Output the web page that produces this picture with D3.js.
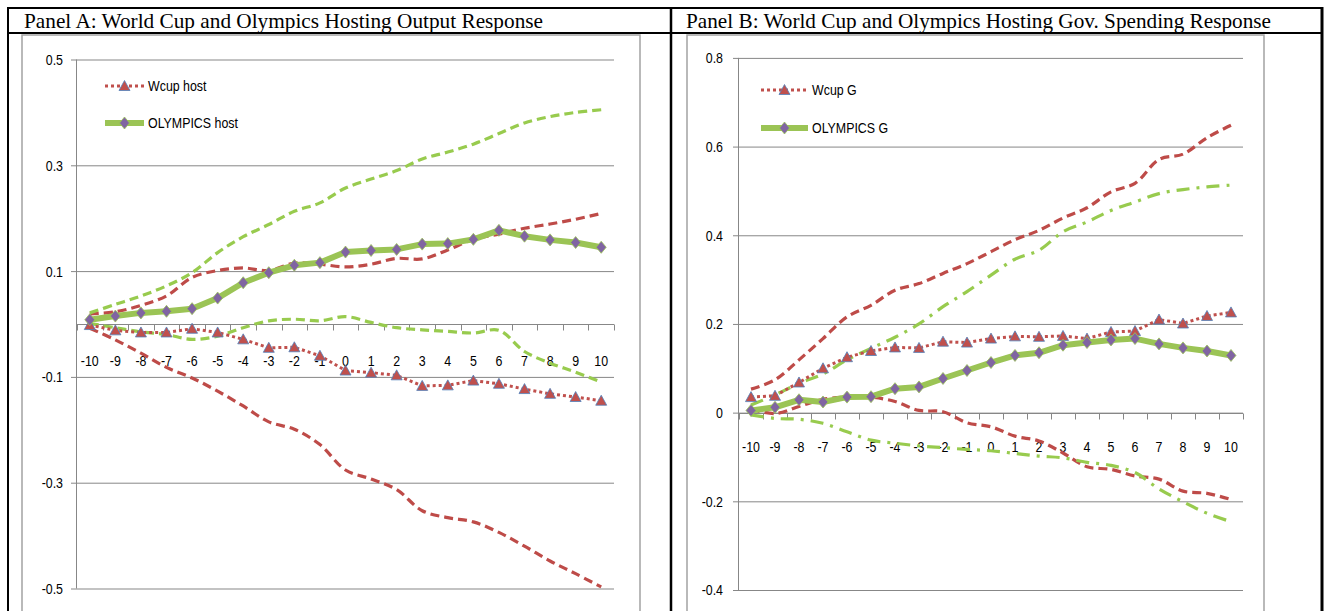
<!DOCTYPE html>
<html>
<head>
<meta charset="utf-8">
<script src="https://cdn.jsdelivr.net/npm/d3@7"></script>
<style>
  html, body { margin: 0; padding: 0; background: #fff; }
  svg { display: block; }
</style>
</head>
<body>
<svg id="fig" width="1327" height="611"></svg>
<script>
// Event-time periods (years relative to hosting)
const periods = [-10, -9, -8, -7, -6, -5, -4, -3, -2, -1, 0, 1, 2, 3, 4, 5, 6, 7, 8, 9, 10];

// Panel A: output response, point estimates and confidence bands
const outputWcup   = [-0.002, -0.012, -0.016, -0.016, -0.009, -0.016, -0.029, -0.045, -0.044, -0.060, -0.088, -0.092, -0.097, -0.117, -0.116, -0.107, -0.113, -0.123, -0.132, -0.138, -0.145];
const outputWcupHi = [0.019, 0.023, 0.035, 0.053, 0.088, 0.101, 0.106, 0.101, 0.115, 0.113, 0.108, 0.113, 0.124, 0.123, 0.140, 0.160, 0.170, 0.181, 0.189, 0.198, 0.209];
const outputWcupLo = [-0.008, -0.030, -0.055, -0.082, -0.102, -0.127, -0.155, -0.185, -0.199, -0.228, -0.276, -0.293, -0.313, -0.353, -0.366, -0.374, -0.394, -0.420, -0.448, -0.472, -0.497];
const outputOly    = [0.008, 0.015, 0.021, 0.024, 0.029, 0.049, 0.078, 0.097, 0.111, 0.116, 0.136, 0.139, 0.141, 0.151, 0.152, 0.160, 0.177, 0.166, 0.159, 0.154, 0.145];
const outputOlyHi  = [0.021, 0.037, 0.053, 0.072, 0.097, 0.135, 0.165, 0.188, 0.213, 0.229, 0.257, 0.274, 0.290, 0.312, 0.325, 0.340, 0.360, 0.380, 0.392, 0.400, 0.405];
const outputOlyLo  = [0.001, -0.007, -0.015, -0.020, -0.029, -0.023, -0.007, 0.006, 0.009, 0.006, 0.014, 0.003, -0.007, -0.011, -0.014, -0.017, -0.012, -0.052, -0.074, -0.091, -0.110];

// Panel B: government spending response
const govWcup   = [0.035, 0.038, 0.068, 0.100, 0.125, 0.139, 0.147, 0.146, 0.160, 0.158, 0.167, 0.172, 0.171, 0.173, 0.167, 0.182, 0.184, 0.210, 0.201, 0.218, 0.226];
const govWcupHi = [0.053, 0.074, 0.119, 0.167, 0.216, 0.242, 0.276, 0.291, 0.314, 0.336, 0.363, 0.390, 0.411, 0.439, 0.462, 0.498, 0.517, 0.571, 0.583, 0.620, 0.648];
const govWcupLo = [0.008, -0.002, 0.014, 0.030, 0.035, 0.035, 0.025, 0.005, 0.002, -0.023, -0.032, -0.053, -0.064, -0.091, -0.122, -0.128, -0.143, -0.150, -0.177, -0.182, -0.196];
const govOly    = [0.005, 0.012, 0.029, 0.024, 0.035, 0.036, 0.054, 0.058, 0.077, 0.095, 0.113, 0.129, 0.135, 0.152, 0.158, 0.164, 0.167, 0.155, 0.146, 0.139, 0.129];
const govOlyHi  = [0.017, 0.040, 0.066, 0.087, 0.119, 0.145, 0.170, 0.200, 0.239, 0.273, 0.310, 0.346, 0.366, 0.408, 0.430, 0.456, 0.475, 0.494, 0.503, 0.509, 0.513];
const govOlyLo  = [-0.005, -0.013, -0.015, -0.024, -0.043, -0.062, -0.069, -0.075, -0.079, -0.083, -0.086, -0.092, -0.098, -0.102, -0.112, -0.119, -0.135, -0.172, -0.201, -0.227, -0.246];

// Axis ticks
const outputTicks = [0.5, 0.3, 0.1, -0.1, -0.3, -0.5];
const outputTickLabels = ["0.5", "0.3", "0.1", "-0.1", "-0.3", "-0.5"];
const govTicks = [0.8, 0.6, 0.4, 0.2, 0, -0.2, -0.4];
const govTickLabels = ["0.8", "0.6", "0.4", "0.2", "0", "-0.2", "-0.4"];

// Titles and legend text
const panelTitles = [
  "Panel A: World Cup and Olympics Hosting Output Response",
  "Panel B: World Cup and Olympics Hosting Gov. Spending Response"
];
const legendA = ["Wcup host", "OLYMPICS host"];
const legendB = ["Wcup G", "OLYMPICS G"];

// ---- styling ----
const CHART_FONT = "'Liberation Sans', Arial, sans-serif";
const NARROW = 0.8;   // horizontal squeeze for the condensed chart lettering
const TITLE_FONT = "'Liberation Serif', 'Times New Roman', serif";
const RED = "#C0504D";
const RED_BAND = "#BE4B48";
const GREEN = "#9BC455";
const GREEN_BAND = "#98CB4E";
const PURPLE = "#8064A2";
const BLUE_EDGE = "#4F81BD";
const GRID = "#878787";

const svg = d3.select("#fig");

// squeeze text horizontally around its anchor point
function narrow(sel) {
  sel.each(function () {
    const t = d3.select(this);
    const x = +t.attr("x") || 0;
    const y = +t.attr("y") || 0;
    t.attr("x", 0).attr("y", 0)
      .attr("transform", `translate(${x},${y}) scale(${NARROW},1)`)
      .attr("font-family", CHART_FONT).attr("font-size", 15.5).attr("fill", "#000");
  });
}

// ---- table frame ----
const frame = svg.append("g");
frame.append("rect").attr("width", 1327).attr("height", 611).attr("fill", "#fff");
const blk = (x1, y1, x2, y2, w) => frame.append("line")
  .attr("x1", x1).attr("y1", y1).attr("x2", x2).attr("y2", y2)
  .attr("stroke", "#000").attr("stroke-width", w);
blk(8, 8, 1322, 8, 2);
blk(8, 33, 1322, 33, 2);
blk(8, 7, 8, 611, 2);
blk(671, 7, 671, 611, 2.5);
blk(1322, 7, 1322, 611, 3);

// chart-object borders
const chartBox = (x1, x2) => frame.append("path")
  .attr("d", `M${x1},615 V35 H${x2} V615`)
  .attr("fill", "none").attr("stroke", "#A3A3A3").attr("stroke-width", 1.5);
chartBox(22, 640);
chartBox(687, 1264);

// titles
const titleWidths = [519, 585];
frame.selectAll("text.title").data(panelTitles).enter().append("text")
  .attr("class", "title")
  .attr("x", (d, i) => i === 0 ? 24 : 686)
  .attr("y", 28)
  .attr("font-family", TITLE_FONT)
  .attr("font-size", 21)
  .attr("textLength", (d, i) => titleWidths[i])
  .attr("lengthAdjust", "spacingAndGlyphs")
  .attr("fill", "#000")
  .text(d => d);

// ---- marker paths ----
const triangle = (cx, cy) => `M${cx},${cy - 5.5}L${cx + 5.5},${cy + 4.5}L${cx - 5.5},${cy + 4.5}Z`;
const diamond = (cx, cy) => `M${cx},${cy - 6}L${cx + 5},${cy}L${cx},${cy + 6}L${cx - 5},${cy}Z`;

function drawPanel(cfg) {
  const g = svg.append("g");
  const x = d3.scaleBand().domain(periods).range([cfg.left, cfg.right]);
  const y = d3.scaleLinear().domain(cfg.domain).range([cfg.bottom, cfg.top]);
  const cx = p => x(p) + x.bandwidth() / 2;

  // horizontal gridlines
  g.append("g")
    .attr("transform", `translate(${cfg.left},0)`)
    .call(d3.axisLeft(y).tickValues(cfg.ticks).tickSize(-(cfg.right - cfg.left)).tickFormat(""))
    .call(a => a.select(".domain").remove())
    .call(a => a.selectAll(".tick line").attr("stroke", GRID).attr("stroke-width", 1));

  // y axis with outward ticks and labels
  g.append("g")
    .attr("transform", `translate(${cfg.left},0)`)
    .call(d3.axisLeft(y).tickValues(cfg.ticks).tickSize(6).tickPadding(cfg.labelPad)
      .tickFormat((d, i) => cfg.tickLabels[i]))
    .call(a => a.select(".domain").attr("stroke", GRID).attr("d", `M-0.5,${cfg.top}V${cfg.bottom}`))
    .call(a => a.selectAll(".tick line").attr("stroke", GRID))
    .call(a => narrow(a.selectAll("text")));

  // x axis along zero with category-boundary ticks
  const y0 = Math.round(y(0)) + 0.5;
  const xAxis = g.append("g").attr("transform", `translate(0,${y0})`);
  xAxis.call(d3.axisBottom(x).tickSize(0).tickPadding(0))
    .call(a => a.select(".domain").attr("stroke", GRID).attr("d", `M${cfg.left},0H${cfg.right}`))
    .call(a => a.selectAll("text").attr("y", cfg.xLabelOffset).attr("dy", "0.35em"))
    .call(a => narrow(a.selectAll("text")));
  const bounds = periods.map(p => x(p)).concat([x(periods[periods.length - 1]) + x.bandwidth()]);
  xAxis.selectAll("line.bt").data(bounds).enter().append("line")
    .attr("class", "bt")
    .attr("x1", d => Math.round(d) + 0.5).attr("x2", d => Math.round(d) + 0.5)
    .attr("y1", 0).attr("y2", 6)
    .attr("stroke", GRID);

  const pts = arr => arr.map((v, i) => [cx(periods[i]), y(v)]);
  const smooth = d3.line().curve(d3.curveCatmullRom.alpha(0.5));
  const straight = d3.line();

  // confidence bands
  [cfg.wcupHi, cfg.wcupLo].forEach(arr => {
    g.append("path").attr("d", smooth(pts(arr)))
      .attr("fill", "none").attr("stroke", RED_BAND).attr("stroke-width", 3.2)
      .attr("stroke-dasharray", "9 5");
  });
  [cfg.olyHi, cfg.olyLo].forEach(arr => {
    g.append("path").attr("d", smooth(pts(arr)))
      .attr("fill", "none").attr("stroke", GREEN_BAND).attr("stroke-width", 3.2)
      .attr("stroke-dasharray", cfg.olyDash);
  });

  // World Cup point estimates: dotted line with triangles
  g.append("path").attr("d", straight(pts(cfg.wcup)))
    .attr("fill", "none").attr("stroke", RED).attr("stroke-width", 3)
    .attr("stroke-dasharray", "3 3");
  g.selectAll("path.tri").data(cfg.wcup).enter().append("path")
    .attr("class", "tri")
    .attr("d", (v, i) => triangle(cx(periods[i]), y(v)))
    .attr("fill", RED).attr("stroke", BLUE_EDGE).attr("stroke-width", 0.8);

  // Olympics point estimates: thick line with diamonds
  g.append("path").attr("d", straight(pts(cfg.oly)))
    .attr("fill", "none").attr("stroke", GREEN).attr("stroke-width", 6)
    .attr("stroke-linejoin", "round");
  g.selectAll("path.dia").data(cfg.oly).enter().append("path")
    .attr("class", "dia")
    .attr("d", (v, i) => diamond(cx(periods[i]), y(v)))
    .attr("fill", PURPLE).attr("stroke", GREEN).attr("stroke-width", 0.8);

  // legend
  const lg = g.append("g");
  const [lx1, lx2] = cfg.legendLine;
  const lmid = (lx1 + lx2) / 2;
  const [ly1, ly2] = cfg.legendY;
  lg.append("line").attr("x1", lx1).attr("x2", lx2).attr("y1", ly1).attr("y2", ly1)
    .attr("stroke", RED).attr("stroke-width", 3).attr("stroke-dasharray", "3 3");
  lg.append("path").attr("d", triangle(lmid, ly1))
    .attr("fill", RED).attr("stroke", BLUE_EDGE).attr("stroke-width", 0.8);
  lg.append("line").attr("x1", lx1).attr("x2", lx2).attr("y1", ly2).attr("y2", ly2)
    .attr("stroke", GREEN).attr("stroke-width", 6);
  lg.append("path").attr("d", diamond(lmid, ly2))
    .attr("fill", PURPLE).attr("stroke", GREEN).attr("stroke-width", 0.8);
  lg.selectAll("text").data(cfg.legend).enter().append("text")
    .attr("x", lx2 + 4)
    .attr("y", (d, i) => i === 0 ? ly1 : ly2)
    .attr("dy", "0.35em")
    .text(d => d)
    .call(narrow);
}

drawPanel({
  left: 77, right: 614, top: 59.5, bottom: 588.5,
  domain: [-0.5, 0.5], ticks: outputTicks, tickLabels: outputTickLabels, labelPad: 8,
  xLabelOffset: 36,
  wcup: outputWcup, wcupHi: outputWcupHi, wcupLo: outputWcupLo,
  oly: outputOly, olyHi: outputOlyHi, olyLo: outputOlyLo,
  olyDash: "9 5",
  legend: legendA, legendLine: [105, 144], legendY: [86, 123]
});

drawPanel({
  left: 739, right: 1243, top: 57.9, bottom: 590,
  domain: [-0.4, 0.8], ticks: govTicks, tickLabels: govTickLabels, labelPad: 10,
  xLabelOffset: 33.5,
  wcup: govWcup, wcupHi: govWcupHi, wcupLo: govWcupLo,
  oly: govOly, olyHi: govOlyHi, olyLo: govOlyLo,
  olyDash: "13 7 3 7",
  legend: legendB, legendLine: [761, 808], legendY: [90, 128]
});
</script>
</body>
</html>
